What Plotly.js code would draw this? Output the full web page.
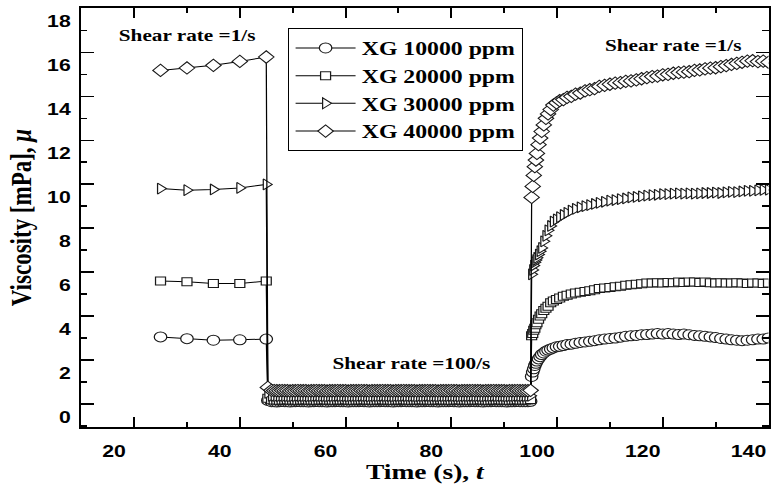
<!DOCTYPE html>
<html>
<head>
<meta charset="utf-8">
<script src="https://cdn.plot.ly/plotly-3.0.1.min.js"></script>
<style>
  html, body { margin: 0; padding: 0; background: #fff; }
  #frame { width: 771px; height: 484px; overflow: hidden; }
  /* the figure is laid out narrow and widened horizontally */
  #chart { width: 617px; height: 484px; transform: scaleX(1.2496); transform-origin: 0 0; }
</style>
</head>
<body>
<div id="frame"><div id="chart"></div></div>
<script>
// Step test: shear rate 1/s -> 100/s -> 1/s
var seriesNames = ['XG 10000 ppm', 'XG 20000 ppm', 'XG 30000 ppm', 'XG 40000 ppm'];

// time (s) of each phase
var tLow1 = [25, 30, 35, 40, 45];
var tHigh = [45.3, 46, 46.5, 47, 47.5, 48, 48.5, 49, 49.5, 50,
  50.5, 51, 51.5, 52, 52.5, 53, 53.5, 54, 54.5, 55,
  55.5, 56, 56.5, 57, 57.5, 58, 58.5, 59, 59.5, 60,
  60.5, 61, 61.5, 62, 62.5, 63, 63.5, 64, 64.5, 65,
  65.5, 66, 66.5, 67, 67.5, 68, 68.5, 69, 69.5, 70,
  70.5, 71, 71.5, 72, 72.5, 73, 73.5, 74, 74.5, 75,
  75.5, 76, 76.5, 77, 77.5, 78, 78.5, 79, 79.5, 80,
  80.5, 81, 81.5, 82, 82.5, 83, 83.5, 84, 84.5, 85,
  85.5, 86, 86.5, 87, 87.5, 88, 88.5, 89, 89.5, 90,
  90.5, 91, 91.5, 92, 92.5, 93, 93.5, 94, 94.5, 95];
var tLow2 = [95.2, 95.4, 95.6, 95.8, 96.0, 96.2, 96.5, 96.8, 97.1, 97.5,
  97.9, 98.3, 98.8, 99.3, 99.9, 100.5, 101.2, 101.9, 102.7, 103.5,
  104.4, 105.3, 106.2, 107.1, 108, 109, 110, 111, 112, 113,
  114, 115, 116, 117, 118, 119, 120, 121, 122, 123,
  124, 125, 126, 127, 128, 129, 130, 131, 132, 133,
  134, 135, 136, 137, 138, 139, 140];

// viscosity (mPa) — XG 10000 ppm
var xg10Low1 = [3.05, 2.97, 2.9, 2.92, 2.95];
var xg10High = [0.16, 0.1, 0.1, 0.09, 0.1, 0.11, 0.1, 0.1, 0.09, 0.1,
  0.1, 0.11, 0.1, 0.1, 0.1, 0.09, 0.1, 0.1, 0.11, 0.1,
  0.1, 0.1, 0.09, 0.1, 0.1, 0.1, 0.11, 0.1, 0.1, 0.1,
  0.09, 0.1, 0.1, 0.1, 0.1, 0.11, 0.1, 0.1, 0.09, 0.1,
  0.1, 0.1, 0.1, 0.11, 0.1, 0.1, 0.1, 0.09, 0.1, 0.1,
  0.1, 0.11, 0.1, 0.1, 0.1, 0.1, 0.09, 0.1, 0.1, 0.1,
  0.11, 0.1, 0.1, 0.1, 0.09, 0.1, 0.1, 0.1, 0.1, 0.11,
  0.1, 0.1, 0.09, 0.1, 0.1, 0.1, 0.1, 0.11, 0.1, 0.1,
  0.1, 0.09, 0.1, 0.1, 0.1, 0.11, 0.1, 0.1, 0.1, 0.1,
  0.09, 0.1, 0.1, 0.1, 0.11, 0.1, 0.1, 0.1, 0.1, 0.12];
var xg10Low2 = [1.25, 1.45, 1.6, 1.75, 1.85, 1.95, 2.05, 2.15, 2.25, 2.32,
  2.4, 2.45, 2.5, 2.55, 2.6, 2.62, 2.66, 2.7, 2.72, 2.76,
  2.8, 2.82, 2.85, 2.88, 2.92, 2.95, 2.98, 3.0, 3.04, 3.08,
  3.1, 3.12, 3.15, 3.16, 3.18, 3.2, 3.18, 3.2, 3.18, 3.16,
  3.18, 3.15, 3.12, 3.1, 3.08, 3.05, 3.02, 2.98, 2.95, 2.92,
  2.9, 2.88, 2.9, 2.92, 2.95, 2.95, 3.0];

// viscosity (mPa) — XG 20000 ppm
var xg20Low1 = [5.6, 5.56, 5.48, 5.48, 5.59];
var xg20High = [0.26, 0.19, 0.18, 0.18, 0.17, 0.18, 0.18, 0.19, 0.18, 0.18,
  0.18, 0.17, 0.18, 0.18, 0.19, 0.18, 0.18, 0.18, 0.17, 0.18,
  0.18, 0.19, 0.18, 0.18, 0.18, 0.17, 0.18, 0.18, 0.18, 0.19,
  0.18, 0.18, 0.17, 0.18, 0.18, 0.18, 0.19, 0.18, 0.18, 0.18,
  0.17, 0.18, 0.18, 0.19, 0.18, 0.18, 0.18, 0.17, 0.18, 0.18,
  0.18, 0.19, 0.18, 0.18, 0.17, 0.18, 0.18, 0.18, 0.19, 0.18,
  0.18, 0.18, 0.17, 0.18, 0.18, 0.19, 0.18, 0.18, 0.18, 0.17,
  0.18, 0.18, 0.19, 0.18, 0.18, 0.18, 0.17, 0.18, 0.18, 0.18,
  0.19, 0.18, 0.18, 0.17, 0.18, 0.18, 0.18, 0.19, 0.18, 0.18,
  0.18, 0.17, 0.18, 0.18, 0.19, 0.18, 0.18, 0.18, 0.18, 0.2];
var xg20Low2 = [3.1, 3.2, 3.35, 3.45, 3.6, 3.7, 3.85, 4.0, 4.1, 4.25,
  4.35, 4.45, 4.6, 4.68, 4.75, 4.82, 4.9, 4.95, 5.0, 5.05,
  5.08, 5.12, 5.15, 5.2, 5.25, 5.28, 5.3, 5.33, 5.36, 5.4,
  5.42, 5.45, 5.47, 5.5, 5.5, 5.52, 5.5, 5.53, 5.52, 5.55,
  5.53, 5.55, 5.55, 5.53, 5.55, 5.52, 5.5, 5.52, 5.5, 5.5,
  5.52, 5.5, 5.48, 5.5, 5.5, 5.48, 5.5];

// viscosity (mPa) — XG 30000 ppm
var xg30Low1 = [9.8, 9.73, 9.76, 9.83, 9.99];
var xg30High = [0.5, 0.37, 0.36, 0.35, 0.35, 0.36, 0.35, 0.35, 0.34, 0.35,
  0.35, 0.36, 0.35, 0.35, 0.35, 0.34, 0.35, 0.35, 0.36, 0.35,
  0.35, 0.35, 0.34, 0.35, 0.35, 0.35, 0.36, 0.35, 0.35, 0.35,
  0.34, 0.35, 0.35, 0.35, 0.35, 0.36, 0.35, 0.35, 0.34, 0.35,
  0.35, 0.35, 0.35, 0.36, 0.35, 0.35, 0.35, 0.34, 0.35, 0.35,
  0.35, 0.36, 0.35, 0.35, 0.35, 0.35, 0.34, 0.35, 0.35, 0.35,
  0.36, 0.35, 0.35, 0.35, 0.34, 0.35, 0.35, 0.35, 0.35, 0.36,
  0.35, 0.35, 0.34, 0.35, 0.35, 0.35, 0.35, 0.36, 0.35, 0.35,
  0.35, 0.34, 0.35, 0.35, 0.35, 0.36, 0.35, 0.35, 0.35, 0.35,
  0.34, 0.35, 0.35, 0.35, 0.36, 0.35, 0.35, 0.35, 0.35, 0.37];
var xg30Low2 = [5.9, 6.1, 6.3, 6.45, 6.55, 6.65, 6.8, 6.95, 7.1, 7.4,
  7.65, 7.9, 8.1, 8.3, 8.4, 8.5, 8.6, 8.7, 8.8, 8.88,
  8.95, 9.0, 9.05, 9.1, 9.15, 9.2, 9.25, 9.28, 9.32, 9.35,
  9.4, 9.42, 9.45, 9.48, 9.5, 9.52, 9.55, 9.55, 9.57, 9.58,
  9.57, 9.58, 9.57, 9.58, 9.6, 9.6, 9.62, 9.6, 9.63, 9.65,
  9.64, 9.67, 9.7, 9.7, 9.72, 9.74, 9.75];

// viscosity (mPa) — XG 40000 ppm
var xg40Low1 = [15.18, 15.29, 15.41, 15.59, 15.79];
var xg40High = [0.75, 0.62, 0.61, 0.6, 0.6, 0.61, 0.6, 0.6, 0.59, 0.6,
  0.6, 0.61, 0.6, 0.6, 0.6, 0.59, 0.6, 0.6, 0.61, 0.6,
  0.6, 0.6, 0.59, 0.6, 0.6, 0.6, 0.61, 0.6, 0.6, 0.6,
  0.59, 0.6, 0.6, 0.6, 0.6, 0.61, 0.6, 0.6, 0.59, 0.6,
  0.6, 0.6, 0.6, 0.61, 0.6, 0.6, 0.6, 0.59, 0.6, 0.6,
  0.6, 0.61, 0.6, 0.6, 0.6, 0.6, 0.59, 0.6, 0.6, 0.6,
  0.61, 0.6, 0.6, 0.6, 0.59, 0.6, 0.6, 0.6, 0.6, 0.61,
  0.6, 0.6, 0.59, 0.6, 0.6, 0.6, 0.6, 0.61, 0.6, 0.6,
  0.6, 0.59, 0.6, 0.6, 0.6, 0.61, 0.6, 0.6, 0.6, 0.6,
  0.59, 0.6, 0.6, 0.6, 0.61, 0.6, 0.6, 0.6, 0.6, 0.62];
var xg40Low2 = [9.4, 9.9, 10.4, 10.8, 11.1, 11.4, 11.8, 12.1, 12.4, 12.7,
  13.0, 13.2, 13.4, 13.6, 13.7, 13.8, 13.85, 13.95, 14.0, 14.1,
  14.15, 14.25, 14.3, 14.35, 14.45, 14.5, 14.55, 14.6, 14.62, 14.68,
  14.7, 14.75, 14.8, 14.85, 14.9, 14.92, 14.98, 15.0, 15.05, 15.08,
  15.1, 15.12, 15.18, 15.2, 15.25, 15.28, 15.3, 15.35, 15.4, 15.45,
  15.5, 15.55, 15.6, 15.62, 15.58, 15.6, 15.55];

var phaseLabels = ['Shear rate =1/s', 'Shear rate =100/s', 'Shear rate =1/s'];
var xTickVals = [20, 40, 60, 80, 100, 120, 140];
var yTickVals = [0, 2, 4, 6, 8, 10, 12, 14, 16, 18];

var timeAll = tLow1.concat(tHigh, tLow2);
var valuesAll = [
  xg10Low1.concat(xg10High, xg10Low2),
  xg20Low1.concat(xg20High, xg20Low2),
  xg30Low1.concat(xg30High, xg30Low2),
  xg40Low1.concat(xg40High, xg40Low2)
];
var symbols = ['circle', 'square', 'triangle-right', 'diamond'];
var sizes = [10, 8, 9.5, 9.5];

var serif = 'Liberation Serif, Times New Roman, serif';
var sans = 'Liberation Sans, Arial, sans-serif';

var traces = valuesAll.map(function (vals, i) {
  return {
    type: 'scatter',
    mode: 'lines+markers',
    name: seriesNames[i],
    x: timeAll,
    y: vals,
    line: { color: '#000', width: 1 },
    marker: {
      symbol: symbols[i],
      size: sizes[i],
      color: '#fff',
      line: { color: '#1a1a1a', width: 1 }
    }
  };
});

var tickFont = { family: sans, size: 17, color: '#000', weight: 'bold' };
var titleFont = { family: serif, size: 23, color: '#000', weight: 'bold' };
var noteFont = { family: serif, size: 17, color: '#000', weight: 'bold' };

var layout = {
  width: 617,
  height: 484,
  margin: { l: 65, r: 2, t: 8, b: 57 },
  paper_bgcolor: '#fff',
  plot_bgcolor: '#fff',
  showlegend: true,
  legend: {
    x: 0.301, y: 0.952, xanchor: 'left', yanchor: 'top',
    bgcolor: '#fff', bordercolor: '#000', borderwidth: 1,
    font: { family: serif, size: 19, color: '#000', weight: 'bold' },
    itemwidth: 48, tracegroupgap: 0
  },
  xaxis: {
    range: [10, 140],
    tickmode: 'array', tickvals: xTickVals, ticktext: xTickVals.map(String),
    ticks: 'inside', ticklen: 10, tickwidth: 1.5, tickcolor: '#000',
    showline: true, linecolor: '#000', linewidth: 2, mirror: 'ticks',
    showgrid: false, zeroline: false,
    tickfont: tickFont, ticklabelshift: -16, ticklabelstandoff: 8,
    minor: { dtick: 10, tick0: 0, ticks: 'inside', ticklen: 5, tickwidth: 1.5, tickcolor: '#000', showgrid: false },
    title: { text: 'Time (s), <i>t</i>', font: { family: serif, size: 22, color: '#000', weight: 'bold' }, standoff: 3 }
  },
  yaxis: {
    range: [-1.05, 18.02],
    tickmode: 'array', tickvals: yTickVals, ticktext: yTickVals.map(String),
    ticks: 'inside', ticklen: 10, tickwidth: 1.5, tickcolor: '#000',
    showline: true, linecolor: '#000', linewidth: 2, mirror: 'ticks',
    showgrid: false, zeroline: false,
    tickfont: tickFont, ticklabelshift: 13, ticklabelstandoff: 3,
    minor: { dtick: 1, tick0: 0, ticks: 'inside', ticklen: 5, tickwidth: 1.5, tickcolor: '#000', showgrid: false },
    title: { text: 'Viscosity [mPa], <i>μ</i>', font: titleFont, standoff: 6 }
  },
  annotations: [
    { x: 30.2, y: 16.77, xref: 'x', yref: 'y', text: phaseLabels[0], showarrow: false, font: noteFont },
    { x: 72.4, y: 1.86, xref: 'x', yref: 'y', text: phaseLabels[1], showarrow: false, font: noteFont },
    { x: 122.05, y: 16.32, xref: 'x', yref: 'y', text: phaseLabels[2], showarrow: false, font: noteFont }
  ]
};

Plotly.newPlot('chart', traces, layout, { staticPlot: true, displayModeBar: false });
</script>
</body>
</html>
